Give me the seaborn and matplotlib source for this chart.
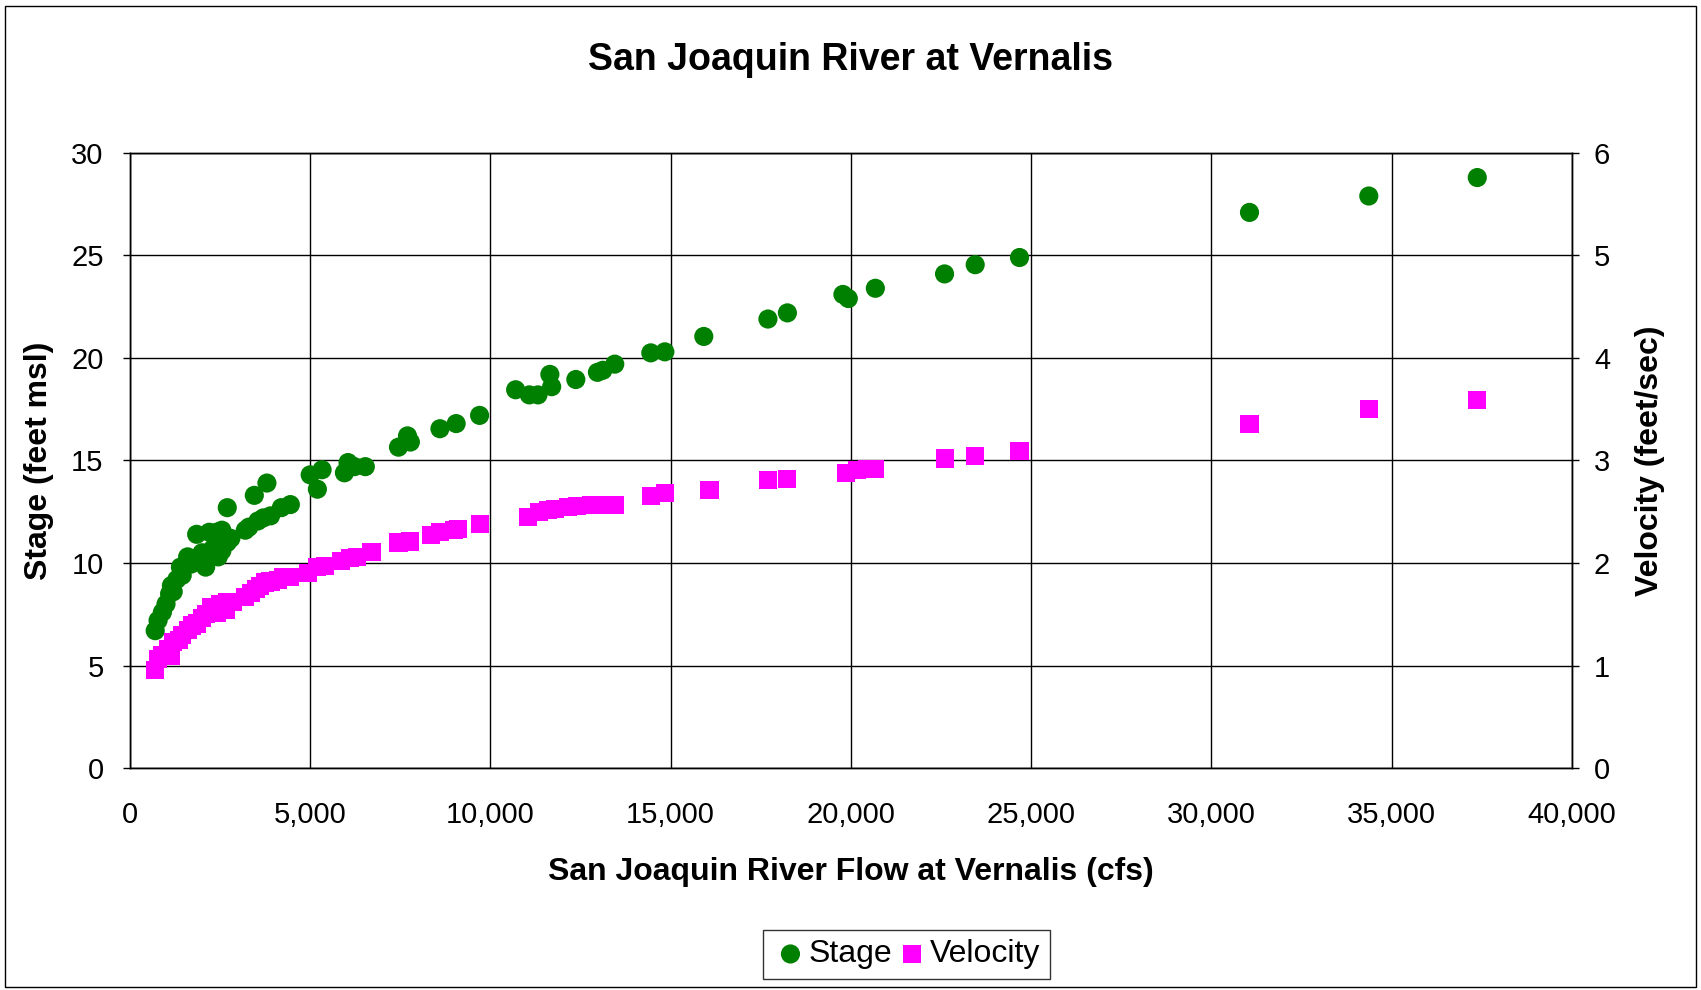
import matplotlib
matplotlib.use('Agg')
import matplotlib.pyplot as plt
import seaborn as sns
from matplotlib.patches import Rectangle

# Dados
vazao_stage = [700, 780, 900, 1000, 1100, 1150, 1200, 1300, 1400, 1450, 1550, 1600, 1700,
               1800, 1850, 1900, 2000, 2100, 2200, 2300, 2400, 2450, 2550, 2550, 2700, 2700,
               2800, 3200, 3300, 3450, 3550, 3700, 3800, 3900, 4200, 4450, 5000, 5200, 5330,
               5950, 6050, 6230, 6530, 7450, 7700, 7780, 8600, 9050, 9700, 10700, 11080,
               11320, 11650, 11700, 12370, 12970, 13120, 13450, 14450, 14840, 15920, 17700,
               18240, 19780, 19930, 20680, 22600, 23450, 24680, 31060, 34370, 37380]
stage = [6.7, 7.2, 7.6, 8.0, 8.5, 8.9, 8.6, 9.2, 9.8, 9.4, 9.95, 10.3, 9.95,
         10.2, 11.4, 10.2, 10.5, 9.8, 11.5, 10.7, 11.5, 10.3, 10.6, 11.6, 12.7, 11.0,
         11.2, 11.6, 11.75, 13.3, 12.05, 12.2, 13.9, 12.3, 12.7, 12.85, 14.3, 13.6, 14.55,
         14.4, 14.9, 14.7, 14.7, 15.65, 16.2, 15.9, 16.55, 16.8, 17.2, 18.45, 18.2,
         18.2, 19.2, 18.6, 18.95, 19.3, 19.4, 19.7, 20.25, 20.3, 21.05, 21.9,
         22.2, 23.1, 22.9, 23.4, 24.1, 24.55, 24.9, 27.1, 27.9, 28.8]

vazao_vel = [700, 780, 900, 1050, 1150, 1200, 1350, 1450, 1600, 1720, 1870, 2000, 2100,
             2250, 2400, 2500, 2650, 2700, 2850, 3200, 3350, 3500, 3600, 3750, 3900, 4100,
             4250, 4450, 4950, 5200, 5400, 5850, 6100, 6300, 6700, 7450, 7780, 8350, 8600,
             9000, 9100, 9700, 11050, 11350, 11600, 11800, 12150, 12400, 12800, 13100,
             13450, 14450, 14840, 16080, 17700, 18240, 19860, 20160, 20460, 20680, 22600,
             23450, 24680, 31060, 34370, 37380]
velocidade = [0.96, 1.06, 1.1, 1.16, 1.09, 1.23, 1.25, 1.3, 1.35, 1.39, 1.41, 1.46, 1.5,
              1.57, 1.51, 1.6, 1.54, 1.62, 1.62, 1.67, 1.71, 1.75, 1.78, 1.81, 1.82, 1.83,
              1.86, 1.86, 1.9, 1.96, 1.97, 2.02, 2.05, 2.06, 2.11, 2.2, 2.21, 2.27, 2.3,
              2.32, 2.33, 2.38, 2.45, 2.5, 2.52, 2.53, 2.55, 2.56, 2.57, 2.57,
              2.57, 2.65, 2.68, 2.71, 2.81, 2.82, 2.88, 2.91, 2.92, 2.92, 3.02,
              3.04, 3.09, 3.36, 3.5, 3.59]

xticks = [0, 5000, 10000, 15000, 20000, 25000, 30000, 35000, 40000]

sns.set_style('white')
plt.rcParams['font.family'] = ['Liberation Sans', 'DejaVu Sans']
plt.rcParams['text.color'] = 'black'
plt.rcParams['axes.labelcolor'] = 'black'
plt.rcParams['xtick.color'] = 'black'
plt.rcParams['ytick.color'] = 'black'

fig = plt.figure(figsize=(17.01, 9.9), dpi=100)
ax = fig.add_axes([0.0764, 0.2242, 0.924 - 0.0764, 0.8455 - 0.2242])
ax2 = ax.twinx()

sns.scatterplot(x=vazao_stage, y=stage, ax=ax, color='#008000', marker='o', s=190,
                edgecolor='none', label='Stage', legend=False, zorder=3)
sns.scatterplot(x=vazao_vel, y=velocidade, ax=ax2, color='#FF00FF', marker='s', s=170,
                edgecolor='none', label='Velocity', legend=False, zorder=3)

ax.set_xlim(0, 40000)
ax.set_ylim(0, 30)
ax2.set_ylim(0, 6)
ax.set_xticks(xticks)
ax.set_xticklabels([f'{v:,}' for v in xticks])
ax.set_yticks(range(0, 31, 5))
ax2.set_yticks(range(0, 7))

ax.grid(True, color='black', linewidth=1)
ax.set_axisbelow(True)
for a in (ax, ax2):
    for s in a.spines.values():
        s.set_color('black')
        s.set_linewidth(1)
    a.tick_params(labelsize=21, length=5, width=1, direction='out')
ax.tick_params(axis='x', pad=19)
ax.tick_params(axis='y', pad=14)
ax2.tick_params(axis='y', pad=11)

ax.set_xlabel('San Joaquin River Flow at Vernalis (cfs)', fontsize=23, fontweight='bold', labelpad=20)
ax.set_ylabel('Stage (feet msl)', fontsize=23, fontweight='bold', labelpad=12)
ax2.set_ylabel('Velocity (feet/sec)', fontsize=23, fontweight='bold', labelpad=18)
fig.text(0.5, 0.939, 'San Joaquin River at Vernalis', ha='center', va='center',
         fontsize=27, fontweight='bold')

handles = ax.collections[:1] + ax2.collections[:1]
leg = fig.legend(handles, ['Stage', 'Velocity'], loc='center', bbox_to_anchor=(0.533, 0.036),
                 ncol=2, fontsize=23, frameon=True, fancybox=False, edgecolor='black',
                 handletextpad=0.0, columnspacing=0.1, borderpad=0.3, markerscale=1.0,
                 handlelength=1.1)
leg.get_frame().set_linewidth(1)

fig.patches.append(Rectangle((0.003, 0.003), 0.994, 0.991, transform=fig.transFigure,
                             fill=False, edgecolor='black', linewidth=1))

fig.savefig('out.png', dpi=100)
